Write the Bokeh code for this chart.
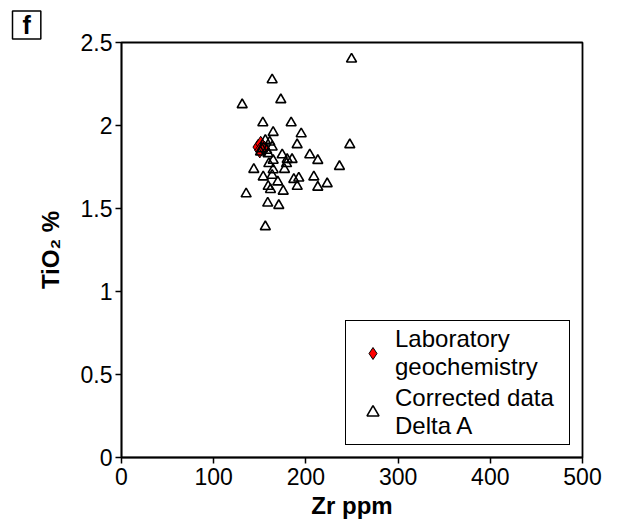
from bokeh.plotting import figure
from bokeh.models import Legend, LegendItem, Title, FixedTicker, Range1d
from bokeh.embed import file_html
from bokeh.resources import INLINE

# Corrected data Delta A
delta_zr = [249.5, 163.4, 130.9, 172.8, 153.3, 184.0, 164.5, 194.9, 190.5, 247.6,
            160.8, 163.4, 156.0, 150.8, 159.0, 174.3, 204.2, 212.9, 179.7, 185.0,
            164.5, 159.8, 179.0, 236.4, 143.5, 164.5, 176.8, 153.7, 163.4, 169.5,
            186.9, 192.3, 208.6, 159.1, 161.6, 175.4, 190.6, 212.9, 223.1, 135.2,
            158.6, 170.6, 156.0, 152.0, 157.5]
delta_tio2 = [2.40, 2.275, 2.125, 2.155, 2.016, 2.016, 1.958, 1.95, 1.884, 1.884,
              1.90, 1.87, 1.91, 1.84, 1.83, 1.823, 1.823, 1.789, 1.795, 1.795,
              1.79, 1.77, 1.77, 1.753, 1.735, 1.733, 1.735, 1.69, 1.70, 1.66,
              1.675, 1.683, 1.69, 1.633, 1.614, 1.604, 1.633, 1.628, 1.649, 1.588,
              1.532, 1.518, 1.39, 1.86, 1.85]

# Laboratory geochemistry
lab_zr = [148.0, 151.0, 153.0, 150.0, 155.0]
lab_tio2 = [1.87, 1.89, 1.87, 1.85, 1.86]

x_ticks = [0, 100, 200, 300, 400, 500]
y_ticks = [0, 0.5, 1, 1.5, 2, 2.5]

FONT = "Liberation Sans"

p = figure(frame_width=461, frame_height=415, output_backend="svg",
           toolbar_location=None, min_border_left=121, min_border_top=42,
           min_border_right=36, min_border_bottom=40,
           x_range=Range1d(0, 500), y_range=Range1d(0, 2.5))

p.xgrid.visible = False
p.ygrid.visible = False
p.outline_line_color = "black"
p.outline_line_width = 1.8
p.outline_line_alpha = 1.0

for ax in (p.xaxis[0], p.yaxis[0]):
    ax.axis_line_width = 1.5
    ax.major_tick_line_width = 1.5
    ax.major_tick_out = 6
    ax.major_tick_in = 0
    ax.minor_tick_out = 0
    ax.minor_tick_in = 0
    ax.major_label_text_font = FONT
    ax.major_label_text_font_size = "23px"
    ax.major_label_text_color = "black"
    ax.axis_label_text_font = FONT
    ax.axis_label_text_font_size = "24px"
    ax.axis_label_text_font_style = "bold"
    ax.axis_label_text_color = "black"

p.xaxis.ticker = FixedTicker(ticks=x_ticks)
p.yaxis.ticker = FixedTicker(ticks=y_ticks)
p.yaxis.major_label_overrides = {0: "0", 0.5: "0.5", 1: "1", 1.5: "1.5", 2: "2", 2.5: "2.5"}
p.xaxis.major_label_standoff = 4
p.yaxis.major_label_standoff = 3
p.xaxis.axis_label = "Zr ppm"
p.yaxis.axis_label = "TiO\u2082 %"
p.xaxis.axis_label_standoff = 4
p.yaxis.axis_label_standoff = 14

r_lab = p.scatter(lab_zr, lab_tio2, marker="diamond", size=15,
                  fill_color="red", line_color="black", line_width=1)
r_delta = p.scatter(delta_zr, delta_tio2, marker="triangle", size=10,
                    fill_color=None, line_color="black", line_width=1.6)

legend = Legend(items=[
    LegendItem(label="Laboratory\ngeochemistry", renderers=[r_lab]),
    LegendItem(label="Corrected data\nDelta A", renderers=[r_delta]),
], location=(224, 12))
legend.label_text_font = FONT
legend.label_text_font_size = "24px"
legend.label_text_color = "black"
legend.label_text_line_height = 1.04
legend.label_standoff = 0
legend.label_width = 170
legend.glyph_width = 45
legend.glyph_height = 30
legend.padding = 4
legend.margin = 0
legend.spacing = 3
legend.border_line_color = "black"
legend.border_line_alpha = 1.0
legend.border_line_width = 1.3
legend.background_fill_alpha = 1.0
p.add_layout(legend, "center")

tag = Title(text="f", text_font=FONT, text_font_size="25px", text_font_style="bold",
            text_color="black", align="left", offset=-109, standoff=7,
            border_line_color="black", border_line_width=1.5, border_line_alpha=1.0,
            background_fill_color="white",
            padding=dict(left=10, right=10, top=0, bottom=0))
p.add_layout(tag, "above")

open("out.html", "w").write(file_html(p, INLINE))
